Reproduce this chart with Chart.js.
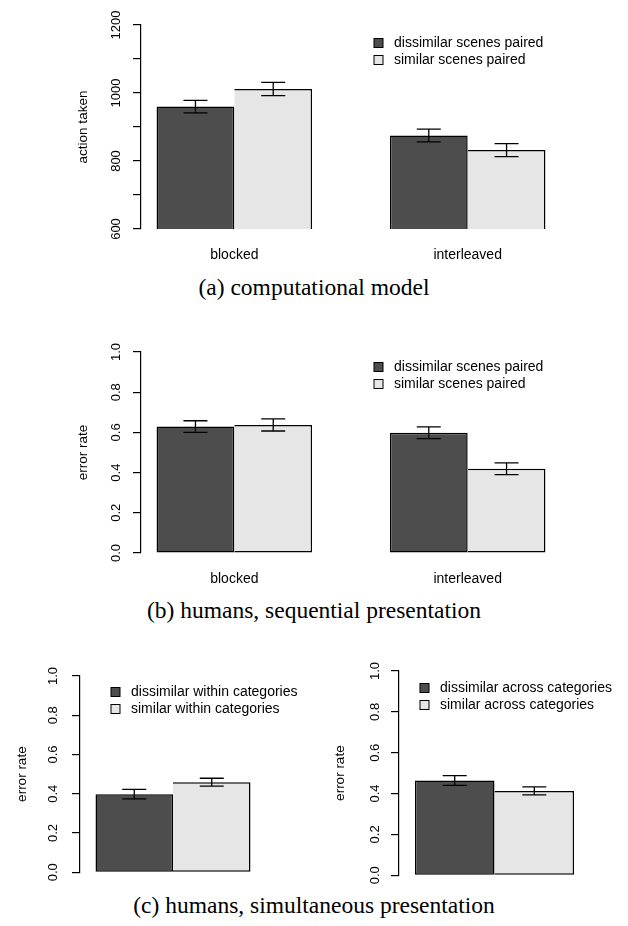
<!DOCTYPE html>
<html lang="en">
<head>
    <meta charset="UTF-8">
    <title>Scene pairing results</title>
    <script src="https://cdn.jsdelivr.net/npm/chart.js"></script>
    <style>
        body { margin: 0; background: #fff; }
        #page { position: relative; width: 628px; height: 926px; }
        canvas { position: absolute; }
        .caption {
            position: absolute; left: 0; width: 628px; text-align: center;
            font-family: "Liberation Serif", "Times New Roman", serif;
            font-size: 23.5px; line-height: 28px; color: #000;
        }
    </style>
</head>
<body>
<div id="page">
    <canvas id="chartA"></canvas>
    <div class="caption" style="top:273px">(a) computational model</div>
    <canvas id="chartB"></canvas>
    <div class="caption" style="top:596px">(b) humans, sequential presentation</div>
    <canvas id="chartC1"></canvas>
    <canvas id="chartC2"></canvas>
    <div class="caption" style="top:891px">(c) humans, simultaneous presentation</div>
</div>

<script>
    // --- data ---
    var conditions = ['blocked', 'interleaved'];
    var pairLabels = ['dissimilar scenes paired', 'similar scenes paired'];

    // (a) computational model: actions taken
    var modelDissimilar = [960, 875];
    var modelSimilar = [1012, 832];
    var modelDissimilarErr = [18.5, 18.5];
    var modelSimilarErr = [19.5, 19];

    // (b) humans, sequential: error rate
    var seqDissimilar = [0.629, 0.598];
    var seqSimilar = [0.637, 0.419];
    var seqDissimilarErr = [0.029, 0.029];
    var seqSimilarErr = [0.030, 0.029];

    // (c) humans, simultaneous: error rate
    var withinLabels = ['dissimilar within categories', 'similar within categories'];
    var withinDissimilar = [0.398];
    var withinSimilar = [0.459];
    var withinDissimilarErr = [0.024];
    var withinSimilarErr = [0.020];

    var acrossLabels = ['dissimilar across categories', 'similar across categories'];
    var acrossDissimilar = [0.464];
    var acrossSimilar = [0.413];
    var acrossDissimilarErr = [0.024];
    var acrossSimilarErr = [0.020];

    // y axis ticks
    var modelTicks = [600, 700, 800, 900, 1000, 1100, 1200];
    var modelTickLabels = ['600', '', '800', '', '1000', '', '1200'];
    var rateTicks = [0, 0.2, 0.4, 0.6, 0.8, 1.0];
    var rateTickLabels = ['0.0', '0.2', '0.4', '0.6', '0.8', '1.0'];

    // --- look ---
    var barColors = ['#4d4d4d', '#e6e6e6'];
    var TICK_LEN = 8;
    var TICK_FONT = 13;
    var TITLE_FONT = 13.5;
    var CAP = 12;

    Chart.defaults.font.family = '"Liberation Sans", Arial, sans-serif';
    Chart.defaults.color = '#000';

    function textWidth(text, size) {
        var c = document.createElement('canvas').getContext('2d');
        c.font = size + 'px "Liberation Sans"';
        return c.measureText(text).width;
    }

    // error bars drawn through the y scale
    var errorBars = {
        id: 'errorBars',
        afterDatasetsDraw: function (chart) {
            var ctx = chart.ctx;
            var yScale = chart.scales.y;
            ctx.save();
            ctx.strokeStyle = '#000';
            ctx.lineWidth = 1.3;
            chart.data.datasets.forEach(function (ds, i) {
                chart.getDatasetMeta(i).data.forEach(function (bar, j) {
                    var v = ds.data[j].y, e = ds.errors[j];
                    var hi = yScale.getPixelForValue(v + e);
                    var lo = yScale.getPixelForValue(v - e);
                    ctx.beginPath();
                    ctx.moveTo(bar.x, hi); ctx.lineTo(bar.x, lo);
                    ctx.moveTo(bar.x - CAP, hi); ctx.lineTo(bar.x + CAP, hi);
                    ctx.moveTo(bar.x - CAP, lo); ctx.lineTo(bar.x + CAP, lo);
                    ctx.stroke();
                });
            });
            ctx.restore();
        }
    };

    // R style legend: filled boxes, no frame
    var boxLegend = {
        id: 'boxLegend',
        afterDraw: function (chart, args, opts) {
            var ctx = chart.ctx;
            var area = chart.chartArea;
            ctx.save();
            ctx.font = '14px "Liberation Sans"';
            ctx.textBaseline = 'middle';
            chart.data.datasets.forEach(function (ds, i) {
                var x = area.left + opts.left;
                var y = area.top + opts.top + i * 17;
                ctx.fillStyle = ds.backgroundColor;
                ctx.fillRect(x - 20, y - 4.5, 9, 9);
                ctx.strokeStyle = '#000';
                ctx.lineWidth = 1;
                ctx.strokeRect(x - 20, y - 4.5, 9, 9);
                ctx.fillStyle = '#000';
                ctx.fillText(ds.label, x, y);
            });
            ctx.restore();
        }
    };

    function makeSeries(label, values, errors, k, catPct) {
        return {
            label: label,
            data: values.map(function (v, i) { return {x: i, y: v}; }),
            errors: errors,
            backgroundColor: barColors[k],
            borderColor: '#000',
            borderWidth: k === 0 ? 1.5 : {top: 1.5, right: 1.5, bottom: 1.5, left: 0},
            borderSkipped: false,
            categoryPercentage: catPct,
            barPercentage: 1
        };
    }

    // p.box = canvas rect on the page, p.area = wanted plot rect on the page
    function makePanel(p) {
        var canvas = document.getElementById(p.id);
        canvas.width = p.box.w;
        canvas.height = p.box.h;
        canvas.style.left = p.box.left + 'px';
        canvas.style.top = p.box.top + 'px';

        var n = p.groups.length;
        var padLeft = p.titleX - p.box.left - TITLE_FONT * 1.2 / 2;
        var yWidth = p.area.left - p.box.left - padLeft;
        var widest = Math.max.apply(null, p.tickLabels.map(function (t) { return textWidth(t, TICK_FONT); }));
        var tickPad = (p.area.left - p.tickX) - TICK_LEN - widest / 2;
        var xHeight = p.box.top + p.box.h - p.area.bottom;
        // bars are 1/3 of the group spacing wide; one group fills 0.8 of it
        var catPct = n > 1 ? 2 / 3 : (2 / 3) / 0.8;

        var datasets = p.series.map(function (s, k) {
            return makeSeries(s.label, s.values, s.errors, k, catPct);
        });

        return new Chart(canvas, {
            type: 'bar',
            data: { datasets: datasets },
            options: {
                responsive: false,
                animation: false,
                layout: {
                    padding: {
                        left: padLeft,
                        top: p.area.top - p.box.top,
                        right: p.box.left + p.box.w - p.area.right,
                        bottom: 0
                    }
                },
                plugins: {
                    legend: { display: false },
                    tooltip: { enabled: false },
                    boxLegend: p.legend
                },
                scales: {
                    x: {
                        type: 'linear',
                        min: -0.4,
                        max: n - 0.6,
                        offset: false,
                        grid: { display: false, drawTicks: false },
                        border: { display: false },
                        afterBuildTicks: function (s) {
                            s.ticks = p.groups.map(function (g, i) { return { value: i }; });
                        },
                        afterFit: function (s) { s.height = xHeight; },
                        ticks: {
                            display: p.showGroups,
                            autoSkip: false,
                            maxRotation: 0,
                            padding: 18,
                            font: { size: 14 },
                            callback: function (v, i) { return p.groups[i]; }
                        }
                    },
                    y: {
                        type: 'linear',
                        min: p.ticks[0],
                        max: p.ticks[p.ticks.length - 1],
                        afterBuildTicks: function (s) {
                            s.ticks = p.ticks.map(function (t) { return { value: t }; });
                        },
                        afterFit: function (s) { s.width = yWidth; },
                        grid: {
                            display: true,
                            drawOnChartArea: false,
                            drawTicks: true,
                            tickLength: TICK_LEN,
                            color: '#000',
                            lineWidth: 1.2
                        },
                        border: { display: true, color: '#000', width: 1.2 },
                        ticks: {
                            autoSkip: false,
                            minRotation: 90,
                            maxRotation: 90,
                            crossAlign: 'center',
                            padding: tickPad,
                            font: { size: TICK_FONT },
                            callback: function (v, i) { return p.tickLabels[i]; }
                        },
                        title: {
                            display: true,
                            text: p.yTitle,
                            font: { size: TITLE_FONT },
                            padding: 0
                        }
                    }
                }
            },
            plugins: [errorBars, boxLegend]
        });
    }

    makePanel({
        id: 'chartA',
        box: { left: 0, top: 0, w: 628, h: 272 },
        area: { left: 141, top: 25, right: 561, bottom: 229 },
        titleX: 83, tickX: 116.5,
        groups: conditions, showGroups: true,
        yTitle: 'action taken',
        ticks: modelTicks, tickLabels: modelTickLabels,
        series: [
            { label: pairLabels[0], values: modelDissimilar, errors: modelDissimilarErr },
            { label: pairLabels[1], values: modelSimilar, errors: modelSimilarErr }
        ],
        legend: { left: 253, top: 18 }
    });

    makePanel({
        id: 'chartB',
        box: { left: 0, top: 300, w: 628, h: 292 },
        area: { left: 141, top: 352, right: 561, bottom: 553 },
        titleX: 83, tickX: 116.5,
        groups: conditions, showGroups: true,
        yTitle: 'error rate',
        ticks: rateTicks, tickLabels: rateTickLabels,
        series: [
            { label: pairLabels[0], values: seqDissimilar, errors: seqDissimilarErr },
            { label: pairLabels[1], values: seqSimilar, errors: seqSimilarErr }
        ],
        legend: { left: 253, top: 15 }
    });

    makePanel({
        id: 'chartC1',
        box: { left: 0, top: 640, w: 314, h: 250 },
        area: { left: 80, top: 676, right: 266, bottom: 879 },
        titleX: 22, tickX: 53,
        groups: [''], showGroups: false,
        yTitle: 'error rate',
        ticks: rateTicks, tickLabels: rateTickLabels,
        series: [
            { label: withinLabels[0], values: withinDissimilar, errors: withinDissimilarErr },
            { label: withinLabels[1], values: withinSimilar, errors: withinSimilarErr }
        ],
        legend: { left: 51, top: 16 }
    });

    makePanel({
        id: 'chartC2',
        box: { left: 314, top: 640, w: 314, h: 250 },
        area: { left: 399, top: 671, right: 590, bottom: 879 },
        titleX: 340, tickX: 375,
        groups: [''], showGroups: false,
        yTitle: 'error rate',
        ticks: rateTicks, tickLabels: rateTickLabels,
        series: [
            { label: acrossLabels[0], values: acrossDissimilar, errors: acrossDissimilarErr },
            { label: acrossLabels[1], values: acrossSimilar, errors: acrossSimilarErr }
        ],
        legend: { left: 41, top: 17 }
    });
</script>
</body>
</html>
